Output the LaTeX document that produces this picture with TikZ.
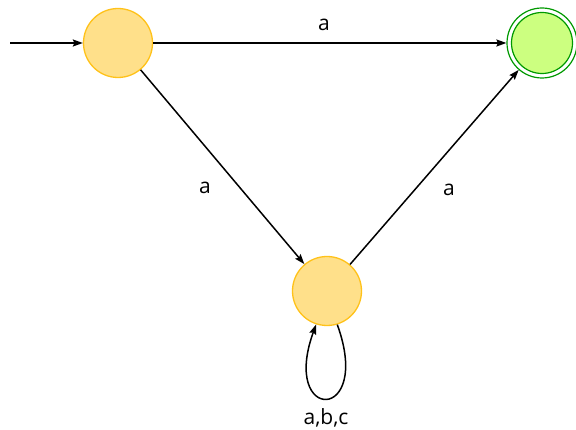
\documentclass[tikz,border=0pt]{standalone}
\usepackage{fontspec}
\setmainfont{Open Sans}
\usetikzlibrary{arrows.meta}
\definecolor{yfill}{HTML}{FFE08A}
\definecolor{ydraw}{HTML}{FFC21A}
\definecolor{gfill}{HTML}{CCFF80}
\definecolor{gdraw}{HTML}{009900}
\begin{document}
\begin{tikzpicture}[x=1pt,y=1pt,
  state/.style={circle,draw=ydraw,fill=yfill,line width=1.3pt,minimum size=69pt,inner sep=0pt},
  accouter/.style={circle,draw=gdraw,fill=white,line width=1.2pt,minimum size=70pt,inner sep=0pt},
  accinner/.style={circle,draw=gdraw,fill=gfill,line width=1.2pt,minimum size=61pt,inner sep=0pt},
  edge/.style={line width=1.5pt,-{Stealth[length=10pt,width=7pt,inset=1.5pt]}},
  lbl/.style={font=\fontsize{21}{21}\selectfont,inner sep=0pt}]
\useasboundingbox (0,0) rectangle (576,430);
\node[state] (s0) at (118,387) {};
\node[accouter] (acc) at (542,387) {};
\node[accinner] (acci) at (542,387) {};
\node[state] (s1) at (327,139) {};
\coordinate (init) at (10,387);
\draw[edge] (init) -- (s0);
\draw[edge] (s0) -- (acc);
\draw[edge] (s0) -- (s1);
\draw[edge] (s1) -- (acc);
\draw[edge] (s1.-73) .. controls +(-70:105) and +(-110:105) .. (s1.-108);
\node[lbl] (l1) at (324,405) {a};
\node[lbl] (l2) at (205,242) {a};
\node[lbl] (l3) at (449,240) {a};
\node[lbl] (l4) at (326,12) {a,b,c};
\end{tikzpicture}
\end{document}
